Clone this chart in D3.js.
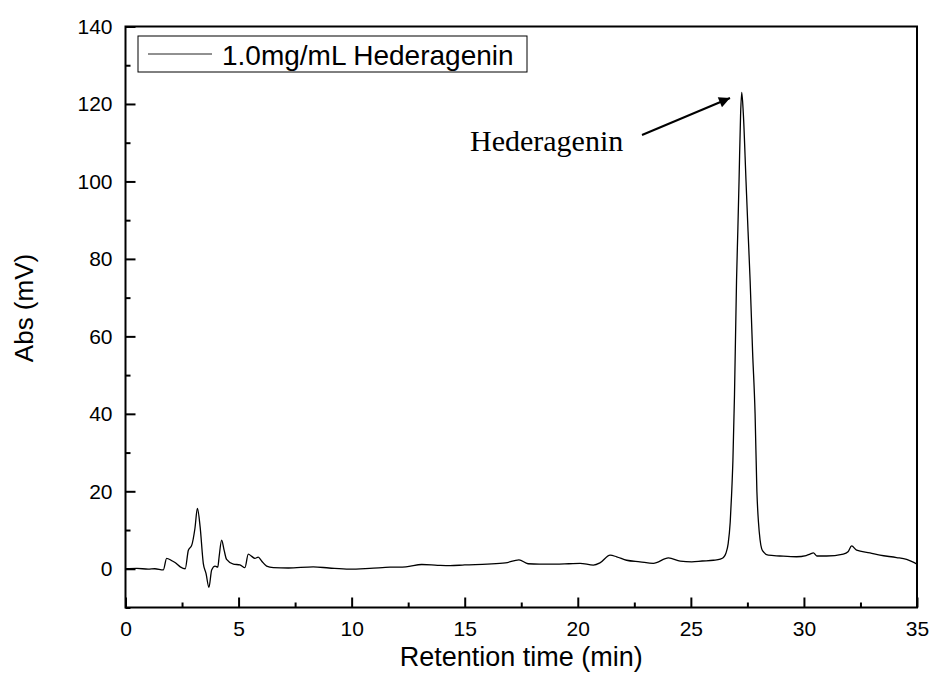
<!DOCTYPE html>
<html>
<head>
<meta charset="utf-8">
<script src="https://cdn.jsdelivr.net/npm/d3@7"></script>
<style>
  body { margin: 0; background: #fff; }
  text { font-family: Arial, "Liberation Sans", sans-serif; fill: #000; }
</style>
</head>
<body>
<svg id="chart" width="933" height="689"></svg>
<script>
// Chromatogram (time in min, abs in mV)
const retentionTime = [
  0, 0.5, 1.0, 1.3, 1.67, 1.82, 2.04, 2.19, 2.42, 2.64, 2.78, 2.93, 3.07, 3.18, 3.30,
  3.44, 3.56, 3.69, 3.81, 3.96, 4.08, 4.14, 4.25, 4.36, 4.47, 4.77, 5.06, 5.28, 5.43,
  5.58, 5.72, 5.87, 6.02, 6.24, 6.54, 7.2, 8.3, 9.0, 9.9, 10.8, 11.7, 12.4, 13.1, 13.8,
  14.35, 15.0, 16.0, 16.8, 17.4, 17.8, 18.3, 19.0, 19.6, 20.1, 20.69, 20.98, 21.43, 21.72,
  22.16, 22.75, 23.34, 24.01, 24.53, 25.04, 25.5, 26.0, 26.3, 26.44, 26.55, 26.65, 26.74,
  26.80, 26.86, 26.93, 27.02, 27.08, 27.13, 27.20, 27.25, 27.32, 27.44, 27.53, 27.62,
  27.73, 27.84, 27.92, 27.99, 28.06, 28.13, 28.22, 28.42, 28.93, 29.67, 30.1, 30.27, 30.42,
  30.57, 31.0, 31.74, 31.95, 32.11, 32.33, 32.92, 33.36, 34.1, 34.54, 35.0
];
const absorbance = [
  0, 0.1, -0.1, 0.0, -0.3, 2.7, 2.1, 1.6, 0.5, 0.0, 4.8, 6.1, 10.4, 15.6, 10.8,
  1.4, -1.2, -4.8, -0.3, 0.7, 0.4, 3.1, 7.4, 4.8, 2.4, 1.2, 1.0, 0.3, 3.8,
  3.2, 2.7, 3.0, 2.0, 0.7, 0.3, 0.2, 0.5, 0.2, -0.1, 0.1, 0.4, 0.5, 1.1, 0.9,
  0.8, 1.0, 1.2, 1.5, 2.3, 1.3, 1.2, 1.2, 1.3, 1.4, 0.95, 1.5, 3.5, 3.1,
  2.2, 1.8, 1.4, 2.8, 2.0, 1.8, 2.0, 2.2, 2.5, 2.9, 4.0, 6.5, 12,
  19, 28, 45, 74.5, 88, 100, 117.5, 123, 117.5, 100, 87, 74.5,
  56, 40, 20, 12, 7.5, 5.2, 4.3, 3.5, 3.3, 3.1, 3.4, 3.8, 4.1,
  3.3, 3.3, 3.8, 4.4, 5.9, 4.8, 4.1, 3.5, 2.9, 2.4, 1.2
];

const xMajorTicks = [0, 5, 10, 15, 20, 25, 30, 35];
const xMinorTicks = [2.5, 7.5, 12.5, 17.5, 22.5, 27.5, 32.5];
const yMajorTicks = [0, 20, 40, 60, 80, 100, 120, 140];
const yMinorTicks = [-10, 10, 30, 50, 70, 90, 110, 130];

const legendLabel = "1.0mg/mL Hederagenin";
const peakLabel = "Hederagenin";

const svg = d3.select("#chart");
const plotLeft = 125.5, plotRight = 917, plotTop = 26.5, plotBottom = 607.5;

const x = d3.scaleLinear().domain([0, 35]).range([plotLeft, plotRight]);
const y = d3.scaleLinear().domain([-10, 140]).range([plotBottom, plotTop]);

// the trace
const points = retentionTime.map((t, i) => [t, absorbance[i]]);
const line = d3.line()
    .x(d => x(d[0]))
    .y(d => y(d[1]))
    .curve(d3.curveMonotoneX);

svg.append("path")
    .datum(points)
    .attr("d", line)
    .attr("fill", "none")
    .attr("stroke", "#000")
    .attr("stroke-width", 1.3);

// axes, ticks pointing inward
const xAxis = svg.append("g").attr("transform", `translate(0,${plotBottom})`)
    .call(d3.axisBottom(x).tickValues(xMajorTicks).tickSize(-10).tickPadding(14)
        .tickFormat(d3.format("d")));
xAxis.append("g")
    .call(d3.axisBottom(x).tickValues(xMinorTicks).tickSize(-5).tickFormat(""));

const yAxis = svg.append("g").attr("transform", `translate(${plotLeft},0)`)
    .call(d3.axisLeft(y).tickValues(yMajorTicks).tickSize(-10).tickPadding(13)
        .tickFormat(d3.format("d")));
yAxis.append("g")
    .call(d3.axisLeft(y).tickValues(yMinorTicks).tickSize(-5).tickFormat(""));

svg.selectAll(".domain").remove();
svg.selectAll(".tick line").attr("stroke", "#000").attr("stroke-width", 2);
svg.selectAll(".tick text")
    .style("font-family", "Arial, 'Liberation Sans', sans-serif")
    .style("font-size", "21px")
    .attr("fill", "#000");

// frame
svg.append("rect")
    .attr("x", plotLeft).attr("y", plotTop)
    .attr("width", plotRight - plotLeft).attr("height", plotBottom - plotTop)
    .attr("fill", "none")
    .attr("stroke", "#000")
    .attr("stroke-width", 2);

// axis titles
svg.append("text")
    .attr("x", (plotLeft + plotRight) / 2)
    .attr("y", 666)
    .attr("text-anchor", "middle")
    .style("font-size", "27px")
    .text("Retention time (min)");

svg.append("text")
    .attr("transform", "translate(33,308) rotate(-90)")
    .attr("text-anchor", "middle")
    .style("font-size", "26px")
    .text("Abs (mV)");

// legend
const legend = svg.append("g");
legend.append("rect")
    .attr("x", 138).attr("y", 36)
    .attr("width", 389).attr("height", 36)
    .attr("fill", "#fff")
    .attr("stroke", "#000")
    .attr("stroke-width", 1);
legend.append("line")
    .attr("x1", 148).attr("x2", 212)
    .attr("y1", 54).attr("y2", 54)
    .attr("stroke", "#222")
    .attr("stroke-width", 1);
legend.append("text")
    .attr("x", 222).attr("y", 65)
    .style("font-size", "28px")
    .text(legendLabel);

// peak annotation with arrow
svg.append("defs").append("marker")
    .attr("id", "arrow")
    .attr("viewBox", "0 0 10 10")
    .attr("refX", 10).attr("refY", 5)
    .attr("markerWidth", 16).attr("markerHeight", 11)
    .attr("markerUnits", "userSpaceOnUse")
    .attr("orient", "auto")
    .append("path")
    .attr("d", "M0,0 L10,5 L0,10 z")
    .attr("fill", "#000");

svg.append("text")
    .attr("x", 470).attr("y", 151)
    .style("font-family", "'Times New Roman', 'Liberation Serif', serif")
    .style("font-size", "30px")
    .text(peakLabel);

svg.append("line")
    .attr("x1", 642).attr("y1", 135)
    .attr("x2", 730).attr("y2", 98)
    .attr("stroke", "#000")
    .attr("stroke-width", 2)
    .attr("marker-end", "url(#arrow)");
</script>
</body>
</html>
